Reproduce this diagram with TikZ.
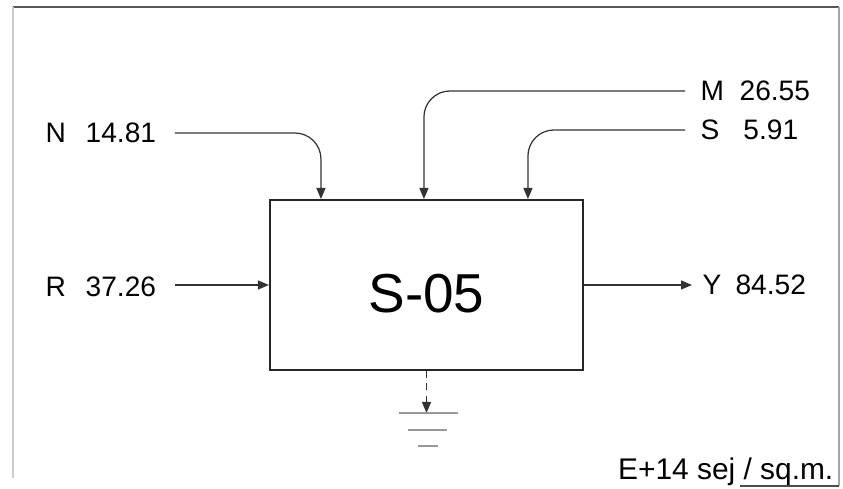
\documentclass[tikz,border=0pt]{standalone}
\usepackage{fontspec}
\setmainfont{Liberation Sans}
\usetikzlibrary{positioning}
\usetikzlibrary{arrows.meta}
\usetikzlibrary{calc}
\tikzset{
    flow/.style={-{Triangle[length=1.1mm,width=0.9mm]}, line width=0.35pt, black!80},
    lbl/.style={inner sep=0pt, anchor=west, font=\fontsize{8pt}{9.6pt}\selectfont},
    proc/.style={draw=black!85, line width=0.55pt, minimum width=3.13cm, minimum height=1.7cm, inner sep=0pt},
    ground/.style={black!40, line width=0.35pt},
    x=0.01cm, y=-0.01cm
}

\begin{document}
\begin{tikzpicture}
\useasboundingbox (0,0) rectangle (843,489);

% frame
\draw[black!65, line width=0.45pt] (13,7) -- (839,7);
\draw[black!20, line width=0.4pt] (13,7) -- (13,478);
\draw[black!35, line width=0.45pt] (839,7) -- (839,486);
\draw[black!70, line width=0.5pt] (740,486) -- (839,486);

\node[proc] (box) at (426.5,285) {};
\node[font=\fontsize{15.6pt}{18pt}\selectfont, inner sep=0pt] (S05) at (426.5,294) {S-05};

\node[lbl] (N) at (45,133) {N\hspace{0.7em}14.81};
\node[lbl] (R) at (45,287) {R\hspace{0.7em}37.26};
\node[lbl] (M) at (700,91) {M\hspace{0.55em}26.55};
\node[lbl] (S) at (700,130) {S\hspace{0.85em}5.91};
\node[lbl] (Y) at (702,285) {Y\hspace{0.5em}84.52};
\node[inner sep=0pt, anchor=east, font=\fontsize{8.5pt}{10pt}\selectfont] (unit) at (834,472) {E+14 sej / sq.m.};

% inflows from above
\draw[flow, rounded corners=2.6mm, shorten <=1.8mm] (N.east) -| ($(box.north west)+(52,0)$);
\draw[flow, rounded corners=2.6mm, shorten <=1.5mm] (M.west) -| ($(box.north west)+(155,0)$);
\draw[flow, rounded corners=2.6mm, shorten <=1.5mm] (S.west) -| ($(box.north west)+(259,0)$);

% side flows
\draw[flow, shorten <=1.8mm] (R.east |- box.west) -- (box.west);
\draw[flow, shorten >=1mm] (box.east) -- (Y.west);

% heat sink
\coordinate (gnd) at (426.5,413);
\draw[flow, dashed, dash pattern=on 2pt off 1.5pt] (box.south) -- (gnd);
\draw[ground] ($(gnd)+(-28,0)$) -- ($(gnd)+(31,0)$);
\draw[ground] ($(gnd)+(-19,17)$) -- ($(gnd)+(20,17)$);
\draw[ground] ($(gnd)+(-9,33)$) -- ($(gnd)+(11,33)$);
\end{tikzpicture}
\end{document}
